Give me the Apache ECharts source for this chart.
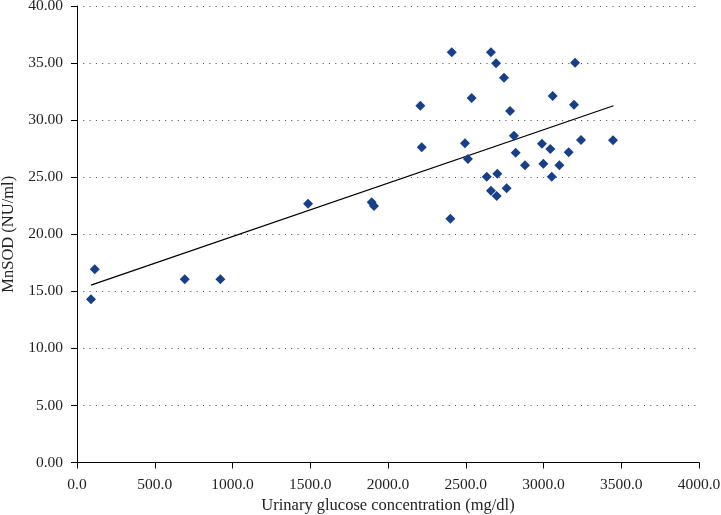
<!DOCTYPE html>
<html>
<head>
<meta charset="utf-8">
<script src="https://cdn.jsdelivr.net/npm/echarts@6/dist/echarts.min.js"></script>
<style>html,body{margin:0;padding:0;background:#fff;}#c{width:721px;height:515px;}</style>
</head>
<body>
<div id="c"></div>
<script>
var glucose = [2410, 2662, 2695, 3203, 2746, 2538, 3059, 2208, 3196, 2785, 2810, 2217, 2495, 2990, 3241, 3447, 2514, 2821, 3044, 3162, 2881, 2999, 3102, 2635, 2703, 3053, 2662, 2699, 2763, 2401, 1895, 1910, 90, 114, 693, 922, 1486];
var mnsod = [35.94, 35.94, 34.98, 35.03, 33.72, 31.94, 32.11, 31.26, 31.35, 30.80, 28.64, 27.62, 27.97, 27.93, 28.26, 28.23, 26.59, 27.15, 27.47, 27.18, 26.04, 26.18, 26.04, 25.04, 25.31, 25.04, 23.82, 23.35, 24.03, 21.36, 22.80, 22.48, 14.30, 16.93, 16.05, 16.05, 22.68];
var trendX = [90, 3450];
var trendY = [15.55, 31.26];

var pts = glucose.map(function (g, i) { return [g, mnsod[i]]; });
var trend = trendX.map(function (x, i) { return [x, trendY[i]]; });

var font = 'Liberation Serif';
var chart = echarts.init(document.getElementById('c'));
chart.setOption({
  animation: false,
  grid: { left: 77, right: 22, top: 6, bottom: 52.5, containLabel: false, outerBoundsMode: 'none' },
  xAxis: {
    type: 'value', min: 0, max: 4000, interval: 500,
    name: 'Urinary glucose concentration (mg/dl)', nameLocation: 'middle', nameGap: 34,
    nameTextStyle: { fontFamily: font, fontSize: 16.5, color: '#222' },
    axisLine: { show: true, onZero: false, lineStyle: { color: '#000', width: 1 } },
    axisTick: { show: true, length: 6, lineStyle: { color: '#000' } },
    axisLabel: { margin: 14, fontFamily: font, fontSize: 15.5, color: '#222', formatter: function (v) { return v.toFixed(1); } },
    splitLine: { show: false }
  },
  yAxis: {
    type: 'value', min: 0, max: 40, interval: 5,
    name: 'MnSOD (NU/ml)', nameLocation: 'middle', nameGap: 60, nameMoveOverlap: false,
    nameTextStyle: { fontFamily: font, fontSize: 16.5, color: '#222' },
    axisLine: { show: true, lineStyle: { color: '#000', width: 1 } },
    axisTick: { show: true, length: 6, lineStyle: { color: '#000' } },
    axisLabel: { margin: 14, fontFamily: font, fontSize: 15.5, color: '#222', formatter: function (v) { return v.toFixed(2); } },
    splitLine: { show: true, lineStyle: { color: '#444', width: 1, type: [1, 5.3] } }
  },
  series: [
    {
      type: 'scatter', data: pts, symbol: 'diamond', symbolSize: 10,
      itemStyle: { color: '#173f8a', opacity: 1 }, z: 3
    },
    {
      type: 'line', data: trend, symbol: 'none',
      lineStyle: { color: '#000', width: 1.3 }, z: 2
    }
  ]
});
</script>
</body>
</html>
